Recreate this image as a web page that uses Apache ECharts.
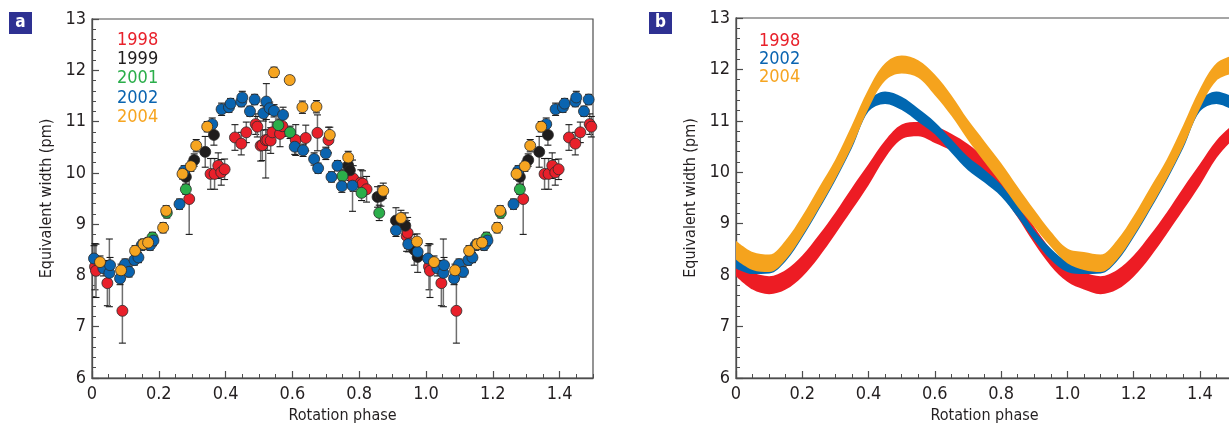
<!DOCTYPE html>
<html>
<head>
<meta charset="utf-8">
<script src="https://cdn.jsdelivr.net/npm/echarts@6/dist/echarts.min.js"></script>
<style>
  html, body { margin: 0; padding: 0; background: #fff; }
  #main { width: 1229px; height: 424px; }
</style>
</head>
<body>
<div id="main"></div>
<script>
// panel a: measured points [phase, equivalent width, error]
var years = ['1998', '1999', '2001', '2002', '2004'];
var pts1998 = [[0.009, 8.17, 0.45], [0.012, 8.09, 0.52], [0.046, 7.85, 0.44], [0.091, 7.31, 0.63], [0.291, 9.49, 0.69],
  [0.355, 9.98, 0.3], [0.367, 9.98, 0.3], [0.378, 10.14, 0.25], [0.387, 10.01, 0.25], [0.397, 10.07, 0.2],
  [0.428, 10.69, 0.25], [0.447, 10.57, 0.22], [0.462, 10.79, 0.2], [0.49, 10.95, 0.2], [0.495, 10.9, 0.2],
  [0.505, 10.53, 0.3], [0.51, 10.54, 0.3], [0.52, 10.64, 0.74], [0.525, 10.64, 0.2], [0.535, 10.63, 0.25],
  [0.54, 10.79, 0.2], [0.563, 10.76, 0.25], [0.57, 10.91, 0.2], [0.61, 10.64, 0.3], [0.64, 10.68, 0.25],
  [0.675, 10.78, 0.35], [0.708, 10.64, 0.25], [0.782, 9.89, 0.25], [0.805, 9.81, 0.25], [0.81, 9.79, 0.25],
  [0.822, 9.68, 0.25], [0.942, 8.77, 0.3], [0.945, 8.83, 0.3]];
var pts1999 = [[0.281, 9.92, 0.15], [0.306, 10.25, 0.12], [0.339, 10.41, 0.3], [0.365, 10.74, 0.2], [0.767, 10.14, 0.2],
  [0.772, 10.05, 0.2], [0.855, 9.53, 0.2], [0.865, 9.55, 0.2], [0.91, 9.07, 0.25], [0.938, 8.97, 0.25],
  [0.965, 8.5, 0.3], [0.975, 8.36, 0.3]];
var pts2001 = [[0.181, 8.74, 0.1], [0.224, 9.22, 0.1], [0.281, 9.68, 0.1], [0.558, 10.93, 0.12], [0.593, 10.79, 0.12],
  [0.75, 9.94, 0.12], [0.807, 9.61, 0.15], [0.86, 9.22, 0.15]];
var pts2002 = [[0.006, 8.33, 0.25], [0.034, 8.14, 0.15], [0.052, 8.05, 0.66], [0.054, 8.2, 0.15], [0.084, 7.94, 0.12],
  [0.099, 8.22, 0.1], [0.111, 8.07, 0.1], [0.127, 8.3, 0.1], [0.139, 8.35, 0.1], [0.149, 8.59, 0.1],
  [0.174, 8.59, 0.1], [0.184, 8.68, 0.1], [0.262, 9.39, 0.1], [0.276, 10.04, 0.1], [0.36, 10.95, 0.12],
  [0.388, 11.24, 0.12], [0.41, 11.28, 0.1], [0.415, 11.35, 0.1], [0.447, 11.39, 0.1], [0.45, 11.47, 0.12],
  [0.473, 11.2, 0.1], [0.487, 11.43, 0.1], [0.513, 11.16, 0.15], [0.522, 11.39, 0.35], [0.532, 11.26, 0.12],
  [0.545, 11.21, 0.12], [0.572, 11.13, 0.15], [0.607, 10.51, 0.15], [0.632, 10.44, 0.12], [0.665, 10.27, 0.12],
  [0.677, 10.09, 0.1], [0.7, 10.38, 0.12], [0.717, 9.92, 0.1], [0.735, 10.14, 0.1], [0.748, 9.74, 0.12],
  [0.78, 9.75, 0.5], [0.91, 8.88, 0.12], [0.947, 8.61, 0.15], [0.975, 8.46, 0.15]];
var pts2004 = [[0.024, 8.26, 0.12], [0.087, 8.1, 0.12], [0.129, 8.48, 0.1], [0.154, 8.61, 0.1], [0.168, 8.64, 0.1],
  [0.213, 8.93, 0.1], [0.222, 9.26, 0.1], [0.271, 9.98, 0.1], [0.296, 10.13, 0.1], [0.312, 10.53, 0.12],
  [0.345, 10.9, 0.1], [0.545, 11.96, 0.1], [0.592, 11.81, 0.08], [0.63, 11.28, 0.12], [0.672, 11.29, 0.12],
  [0.712, 10.74, 0.15], [0.767, 10.3, 0.12], [0.872, 9.65, 0.15], [0.925, 9.12, 0.15], [0.973, 8.66, 0.15]];

// panel b: fitted bands, lower / upper edge every 0.05 in phase
var bandPhase = [0, 0.05, 0.1, 0.15, 0.2, 0.25, 0.3, 0.35, 0.4, 0.45, 0.5, 0.55, 0.6, 0.65, 0.7, 0.75, 0.8, 0.85, 0.9, 0.95, 1.0];
var low1998 = [7.98, 7.72, 7.63, 7.72, 7.97, 8.35, 8.8, 9.27, 9.75, 10.28, 10.64, 10.7, 10.57, 10.42, 10.22, 9.95, 9.58, 9.12, 8.62, 8.18, 7.87];
var up1998  = [8.22, 8.05, 7.98, 8.1, 8.38, 8.78, 9.22, 9.7, 10.16, 10.62, 10.93, 10.98, 10.9, 10.75, 10.55, 10.28, 9.92, 9.45, 8.94, 8.5, 8.16];
var low2002 = [8.13, 8.02, 8.03, 8.27, 8.73, 9.27, 9.84, 10.47, 11.18, 11.33, 11.21, 10.98, 10.74, 10.38, 10.04, 9.8, 9.53, 9.13, 8.68, 8.3, 8.06];
var up2002  = [8.32, 8.15, 8.15, 8.38, 8.85, 9.4, 9.97, 10.6, 11.38, 11.57, 11.47, 11.24, 10.98, 10.64, 10.3, 10.05, 9.76, 9.35, 8.88, 8.52, 8.26];
var low2004 = [8.3, 8.1, 8.06, 8.3, 8.76, 9.3, 9.87, 10.5, 11.24, 11.78, 11.92, 11.84, 11.5, 11.1, 10.63, 10.2, 9.78, 9.33, 8.94, 8.55, 8.23];
var up2004  = [8.67, 8.45, 8.4, 8.68, 9.15, 9.7, 10.25, 10.92, 11.62, 12.12, 12.27, 12.18, 11.9, 11.5, 11.02, 10.6, 10.18, 9.72, 9.27, 8.85, 8.52];

var colors = { '1998': '#e8202a', '1999': '#1f1d1d', '2001': '#2bae4a', '2002': '#0a64b0', '2004': '#f6a521' };
var FONT = "'Liberation Sans Narrow', 'DejaVu Sans Condensed', 'Liberation Sans', sans-serif";
var AX = '#4d4d4d';

// phases below 0.5 are shown again one rotation later
function folded(list) {
    var out = [];
    list.forEach(function (p) {
        out.push(p);
        if (p[0] < 0.5) out.push([p[0] + 1, p[1], p[2]]);
    });
    return out;
}
// rows are [value, phase] so the stacked dimension is the value one
function bandData(lo, up) {
    var base = [], diff = [];
    for (var i = 0; i < bandPhase.length; i++) {
        base.push([lo[i], bandPhase[i]]);
        diff.push([+(up[i] - lo[i]).toFixed(3), bandPhase[i]]);
    }
    for (var j = 1; j < bandPhase.length && bandPhase[j] <= 0.5; j++) {
        base.push([lo[j], bandPhase[j] + 1]);
        diff.push([+(up[j] - lo[j]).toFixed(3), bandPhase[j] + 1]);
    }
    return { base: base, diff: diff };
}

function renderErr(params, api) {
    var x = api.value(0), y = api.value(1), e = api.value(2);
    var t = api.coord([x, y + e]), b = api.coord([x, y - e]);
    var w = 3.5;
    return {
        type: 'group',
        children: [
            { type: 'line', shape: { x1: t[0], y1: t[1], x2: b[0], y2: b[1] }, style: { stroke: '#6e6e6e', lineWidth: 1.5 } },
            { type: 'line', shape: { x1: t[0] - w, y1: t[1], x2: t[0] + w, y2: t[1] }, style: { stroke: '#1a1a1a', lineWidth: 1.1 } },
            { type: 'line', shape: { x1: b[0] - w, y1: b[1], x2: b[0] + w, y2: b[1] }, style: { stroke: '#1a1a1a', lineWidth: 1.1 } }
        ]
    };
}

function yAxisCfg(idx) {
    return {
        gridIndex: idx, type: 'value', min: 6, max: 13, interval: 1,
        axisLine: { show: true, lineStyle: { color: AX, width: 1.3 } },
        axisTick: { show: true, inside: true, length: 7, lineStyle: { color: AX, width: 1.2 } },
        minorTick: { show: true, splitNumber: 5, length: 4, lineStyle: { color: AX, width: 1 } },
        splitLine: { show: false },
        axisLabel: { fontSize: 18, color: '#231f20', margin: 6, fontFamily: FONT },
        name: 'Equivalent width (pm)', nameLocation: 'middle', nameGap: 37,
        nameTextStyle: { fontSize: 16, color: '#231f20', fontFamily: FONT }
    };
}
function xAxisCfg(idx) {
    return {
        gridIndex: idx, type: 'value', min: 0, max: 1.5, interval: 0.2,
        axisLine: { show: true, lineStyle: { color: AX, width: 1.3 } },
        axisTick: { show: true, inside: true, length: 7, lineStyle: { color: AX, width: 1.2 } },
        splitLine: { show: false },
        axisLabel: {
            fontSize: 18, color: '#231f20', margin: 7, fontFamily: FONT, showMaxLabel: false,
            formatter: function (v) { return v === 0 ? '0' : v.toFixed(1); }
        },
        name: 'Rotation phase', nameLocation: 'middle', nameGap: 28,
        nameTextStyle: { fontSize: 16, color: '#231f20', fontFamily: FONT }
    };
}
// extra axis only for the short ticks every 0.05
function xMinorCfg(idx) {
    return {
        gridIndex: idx, type: 'value', min: 0, max: 1.5, interval: 0.05, position: 'bottom',
        axisLine: { show: false }, axisLabel: { show: false }, splitLine: { show: false },
        axisTick: { show: true, inside: true, length: 4, lineStyle: { color: AX, width: 1 } }
    };
}

var series = [];
var ptLists = { '1998': pts1998, '1999': pts1999, '2001': pts2001, '2002': pts2002, '2004': pts2004 };
years.forEach(function (y) {
    series.push({
        name: y + ' err', type: 'custom', xAxisIndex: 0, yAxisIndex: 0, z: 2,
        renderItem: renderErr, encode: { x: 0, y: 1 }, data: folded(ptLists[y]), silent: true
    });
});
years.forEach(function (y, i) {
    series.push({
        name: y, type: 'scatter', xAxisIndex: 0, yAxisIndex: 0, z: 3 + i,
        symbol: 'circle', symbolSize: 11,
        itemStyle: { color: colors[y], borderColor: '#2b2b2b', borderWidth: 0.8, opacity: 1 },
        data: folded(ptLists[y]).map(function (p) { return [p[0], p[1]]; })
    });
});

var bands = [['1998', low1998, up1998, '#ed1c24'], ['2002', low2002, up2002, '#0067b1'], ['2004', low2004, up2004, '#f5a31d']];
bands.forEach(function (b, i) {
    var d = bandData(b[1], b[2]);
    series.push({
        name: b[0] + ' low', type: 'line', xAxisIndex: 2, yAxisIndex: 1, stack: 'b' + b[0],
        encode: { x: 1, y: 0 },
        smooth: 0.35, symbol: 'none', lineStyle: { opacity: 0 }, data: d.base, z: 2 + i, silent: true
    });
    series.push({
        name: b[0] + ' band', type: 'line', xAxisIndex: 2, yAxisIndex: 1, stack: 'b' + b[0],
        encode: { x: 1, y: 0 },
        smooth: 0.35, symbol: 'none', lineStyle: { width: 0, opacity: 0 },
        areaStyle: { color: b[3], opacity: 1 }, data: d.diff, z: 2 + i, silent: true
    });
});

function panelTag(x, letter) {
    return {
        type: 'group', left: x, top: 12,
        children: [
            { type: 'rect', shape: { x: 0, y: 0, width: 23, height: 22 }, style: { fill: '#2e3192' } },
            { type: 'text', x: 11.5, y: 11, style: { text: letter, fill: '#fff', font: 'bold 17px ' + FONT, textAlign: 'center', textVerticalAlign: 'middle' } }
        ]
    };
}
function legendText(x, y, label) {
    return { type: 'text', x: x, y: y, style: { text: label, fill: colors[label], font: '18px ' + FONT, textVerticalAlign: 'middle' } };
}

var chart = echarts.init(document.getElementById('main'), null, { renderer: 'canvas' });
chart.setOption({
    animation: false,
    backgroundColor: '#fff',
    grid: [
        { left: 92, top: 19, width: 501, height: 359, show: true, borderColor: AX, borderWidth: 1.2, outerBoundsMode: 'none' },
        { left: 736, top: 18, width: 497, height: 360, show: true, borderColor: AX, borderWidth: 1.2, outerBoundsMode: 'none' }
    ],
    xAxis: [xAxisCfg(0), xMinorCfg(0), xAxisCfg(1), xMinorCfg(1)],
    yAxis: [yAxisCfg(0), yAxisCfg(1)],
    series: series,
    graphic: [
        panelTag(9, 'a'), panelTag(649, 'b'),
        legendText(117, 40, '1998'), legendText(117, 59, '1999'), legendText(117, 78.5, '2001'),
        legendText(117, 98, '2002'), legendText(117, 117, '2004'),
        legendText(759, 41, '1998'), legendText(759, 59, '2002'), legendText(759, 77.5, '2004')
    ]
});
</script>
</body>
</html>
